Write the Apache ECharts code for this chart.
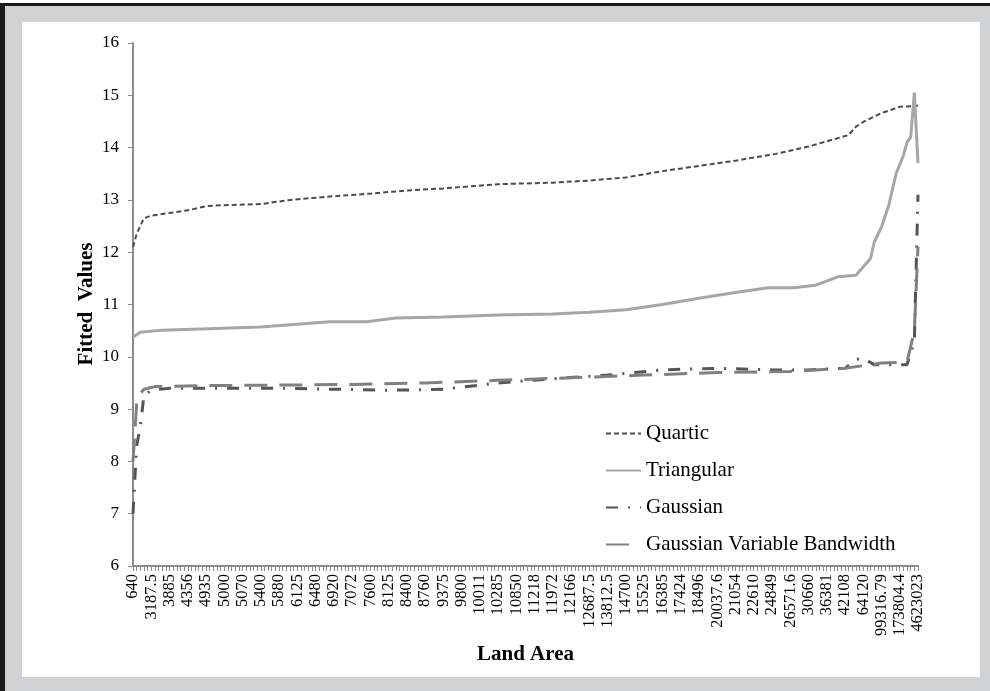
<!DOCTYPE html>
<html>
<head>
<meta charset="utf-8">
<script src="https://cdn.jsdelivr.net/npm/echarts@6/dist/echarts.min.js"></script>
<style>
  html, body { margin: 0; padding: 0; background: #ffffff; }
  #chart { width: 990px; height: 691px; }
</style>
</head>
<body>
<div id="chart"></div>
<script>
// Land area tick labels, one for every fifth observation (sorted by area)
var landAreaLabels = ['640', '3187.5', '3885', '4356', '4935', '5000', '5070', '5400', '5880', '6125',
  '6480', '6920', '7072', '7600', '8125', '8400', '8760', '9375', '9800', '10011',
  '10285', '10850', '11218', '11972', '12166', '12687.5', '13812.5', '14700', '15525', '16385',
  '17424', '18496', '20037.6', '21054', '22610', '24849', '26571.6', '30660', '36381', '42108',
  '64120', '99316.79', '173804.4', '4623023'];
var labelStep = 5;
var observationCount = 216;

// Fitted values as [observation rank, value]
var quartic = [[0, 12.1], [1, 12.35], [3, 12.65], [5, 12.7], [10, 12.75], [15, 12.8], [20, 12.88],
  [25, 12.9], [35, 12.92], [43, 13.0], [55, 13.07], [65, 13.12], [75, 13.18], [85, 13.22],
  [100, 13.3], [115, 13.33], [125, 13.37], [135, 13.43], [145, 13.55], [155, 13.65], [165, 13.75],
  [176, 13.88], [185, 14.02], [190, 14.12], [196, 14.24], [198, 14.4], [200, 14.49], [205, 14.66],
  [210, 14.78], [215, 14.8]];
var triangular = [[0, 10.38], [2, 10.47], [8, 10.51], [35, 10.57], [54, 10.67], [64, 10.67],
  [72, 10.74], [85, 10.76], [100, 10.8], [115, 10.82], [125, 10.85], [135, 10.9], [145, 11.0],
  [155, 11.12], [164, 11.22], [174, 11.32], [181, 11.32], [187, 11.37], [193, 11.53], [198, 11.56],
  [202, 11.88], [203, 12.19], [205, 12.48], [207, 12.9], [209, 13.5], [211, 13.85], [212, 14.1],
  [213, 14.2], [214, 15.05], [215, 13.7]];
var gaussian = [[0, 7.0], [1, 8.3], [2, 8.66], [3, 9.27], [5, 9.36], [10, 9.4], [40, 9.4],
  [55, 9.38], [70, 9.36], [85, 9.38], [100, 9.5], [115, 9.58], [130, 9.65], [145, 9.75],
  [160, 9.78], [175, 9.75], [185, 9.75], [195, 9.78], [198, 9.95], [200, 9.97], [203, 9.85],
  [212, 9.85], [214, 10.3], [215, 13.1]];
var gaussianVB = [[0, 8.0], [1, 9.1], [2, 9.3], [3, 9.38], [6, 9.43], [20, 9.45], [60, 9.47],
  [80, 9.5], [100, 9.55], [120, 9.6], [140, 9.65], [160, 9.7], [180, 9.72], [195, 9.78],
  [205, 9.88], [212, 9.9], [214, 10.5], [215, 12.1]];

var seriesNames = ['Quartic', 'Triangular', 'Gaussian', 'Gaussian Variable Bandwidth'];
var yTicks = { min: 6, max: 16, step: 1 };

// Category axis: every observation gets a tick, every fifth one a label
var categories = [];
for (var i = 0; i < observationCount; i++) {
  categories.push(i % labelStep === 0 ? landAreaLabels[i / labelStep] : '');
}

var serif = '"Liberation Serif", "Times New Roman", serif';
var chart = echarts.init(document.getElementById('chart'), null, { renderer: 'canvas' });

function lineSeries(name, data, color, width, dash) {
  return {
    name: name,
    type: 'line',
    data: data,
    symbol: 'none',
    smooth: false,
    animation: false,
    lineStyle: { color: color, width: width, type: dash, cap: 'butt' },
    itemStyle: { color: color }
  };
}

chart.setOption({
  backgroundColor: '#ffffff',
  animation: false,
  graphic: [
    { type: 'rect', shape: { x: 0, y: 3, width: 990, height: 688 }, style: { fill: '#1a1a1a' }, z: -10, silent: true },
    { type: 'rect', shape: { x: 5, y: 6, width: 985, height: 685 }, style: { fill: '#d1d2d4' }, z: -9, silent: true },
    { type: 'rect', shape: { x: 22, y: 22, width: 958, height: 655 }, style: { fill: '#ffffff' }, z: -8, silent: true },
    {
      type: 'text', rotation: Math.PI / 2, z: 10, x: 87, y: 304,
      style: { text: 'Fitted  Values', font: 'bold 21px ' + serif, fill: '#000000', textAlign: 'center', textVerticalAlign: 'middle' }
    }
  ],
  grid: { left: 133, right: 72, top: 43, bottom: 125, containLabel: false, outerBoundsMode: 'none' },
  legend: {
    orient: 'vertical',
    left: 605, top: 423, padding: 0,
    itemWidth: 35, itemHeight: 14, itemGap: 16,
    itemStyle: { opacity: 0 },
    textStyle: { fontFamily: serif, fontSize: 21, color: '#000000' },
    data: seriesNames
  },
  xAxis: {
    type: 'category',
    data: categories,
    boundaryGap: false,
    name: 'Land Area',
    nameLocation: 'middle',
    nameGap: 75,
    nameTextStyle: { fontFamily: serif, fontSize: 21, fontWeight: 'bold', color: '#000000' },
    axisLine: { show: true, lineStyle: { color: '#8c8c8c', width: 2 } },
    axisTick: { show: true, interval: 0, length: 5, lineStyle: { color: '#8c8c8c', width: 1 } },
    axisLabel: { interval: labelStep - 1, rotate: 90, margin: 8, fontFamily: serif, fontSize: 16.5, color: '#000000' },
    splitLine: { show: false }
  },
  yAxis: {
    type: 'value',
    min: yTicks.min, max: yTicks.max, interval: yTicks.step,
    axisLine: { show: true, lineStyle: { color: '#8c8c8c', width: 2 } },
    axisTick: { show: true, length: 5, lineStyle: { color: '#8c8c8c', width: 1 } },
    axisLabel: { margin: 14, fontFamily: serif, fontSize: 17, color: '#000000' },
    splitLine: { show: false }
  },
  series: [
    lineSeries(seriesNames[0], quartic, '#4a4a4a', 2, [5, 3]),
    lineSeries(seriesNames[1], triangular, '#a6a6a6', 3, 'solid'),
    lineSeries(seriesNames[2], gaussian, '#555555', 3, [12, 10, 2, 10]),
    lineSeries(seriesNames[3], gaussianVB, '#808080', 3, [23, 12])
  ]
});
</script>
</body>
</html>
